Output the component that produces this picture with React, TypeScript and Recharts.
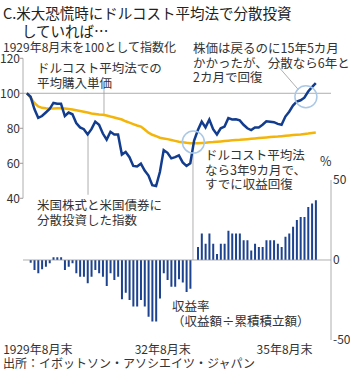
import { ComposedChart, Line, Bar, XAxis, YAxis, ReferenceLine, ReferenceDot } from 'recharts';

// 月次（1929年8月末 = 0）
// 米国株式と米国債券に分散投資した指数
const stockIndex = [
  100, 98, 91, 86, 87, 89, 91, 94.5, 94, 94,
  87, 89, 88, 83, 80.5, 79.5, 76.5, 79.5, 83.8, 82,
  77, 73.5, 78, 76.5, 76.5, 65, 66.5, 63.5, 58.5, 58.2,
  59.8, 55.8, 53, 47.5, 47, 55, 67.5, 66, 62.8, 63.5,
  64.5, 60.5, 58.5, 60, 73, 79, 83.8, 80.5, 85, 79.5,
  76.5, 80, 81, 85.8, 85, 85.2, 84.5, 82, 80, 79,
  80.5, 80.5, 82, 84, 83.8, 83.5, 82.5, 82, 86.7, 89.5,
  93, 95.2, 96, 97.5, 101, 103.5, 105.8,
];

// ドルコスト平均法での平均購入単価
const avgCost = [
  100, 97.5, 94.5, 92.5, 91.7, 91.4, 91.3, 91.3, 91.4, 91.5,
  91.3, 91, 90.7, 90.3, 89.9, 89.5, 89, 88.5, 88.2, 87.9,
  87.7, 87.3, 86.7, 86.2, 85.6, 85, 84, 83.2, 82.4, 81.6,
  81, 79.3, 77.5, 76.3, 75.5, 74.6, 74.2, 73.8, 73.3, 72.8,
  72.3, 72, 71.7, 71.5, 71.4, 71.4, 71.6, 71.8, 72, 72.1,
  72.3, 72.5, 72.7, 72.9, 73.1, 73.3, 73.4, 73.6, 73.8, 74,
  74.2, 74.4, 74.6, 74.8, 75, 75.2, 75.3, 75.5, 75.7, 75.9,
  76.1, 76.3, 76.5, 76.8, 77, 77.3, 77.6,
];

// 収益率（収益額÷累積積立額）%
const returnRate = [
  null, -1.7, -6.2, -8.3, -5.8, -4.2, -2, 1.7, 1.7, 1.7,
  -6.2, -4.2, -2, -8.3, -10.4, -10.4, -14.6, -10.4, -6.2, -8.3,
  -10.4, -16.2, -8.3, -12.5, -10.4, -24.6, -20.4, -25, -29, -29,
  -25, -29, -35.4, -38.5, -38.5, -24, -8.3, -12.5, -16.7, -16.7,
  -12, -14, -20, -18, 0, 8.1, 16.6, 10.2, 16.6, 10.2,
  3.8, 10.2, 10.2, 18.3, 16.6, 16.6, 16.6, 12.3, 12.3, 6,
  10.2, 8.1, 8.1, 12.3, 12.3, 12.3, 10.2, 8.1, 14.5, 16.6,
  20.8, 25, 26.8, 26.8, 33.2, 35.3, 37.4,
];

const xTicks = [0, 36, 72];
const xTickLabels = ['1929年8月末', '32年8月末', '35年8月末'];
const xTickShift = [11, -1, -16];
const leftTicks = [40, 60, 80, 100, 120];
const rightTicks = [-50, 0, 50];

const data = stockIndex.map((v, i) => ({ m: i, stock: v, cost: avgCost[i], ret: returnRate[i] }));

const FONT = '"Noto Sans CJK JP", "Noto Sans", sans-serif';
const INK = '#333';
const GUIDE = '#9a9a9a';
const RING = '#a9c8e6';

function XTick({ x, y, index }: any) {
  return (
    <text x={x + xTickShift[index]} y={y} dy={13.5} textAnchor="middle" fontSize={12} fill={INK} fontFamily={FONT}>
      {xTickLabels[index]}
    </text>
  );
}

function Note({ left, top, lines, size = 12.5 }: { left: number; top: number; lines: string[]; size?: number }) {
  return (
    <div style={{ position: 'absolute', left, top, fontSize: size, lineHeight: '14.5px', color: INK, whiteSpace: 'nowrap' }}>
      {lines.map((l, i) => <div key={i}>{l}</div>)}
    </div>
  );
}

export default function App() {
  return (
    <div style={{ position: 'relative', width: 350, height: 371, background: '#fff', fontFamily: FONT, overflow: 'hidden' }}>
      <style>{'body{margin:0}'}</style>
      <div style={{ position: 'absolute', left: 3, top: 4, fontSize: 14.5, lineHeight: '17px', color: '#222', whiteSpace: 'nowrap' }}>
        C.米大恐慌時にドルコスト平均法で分散投資
      </div>
      <div style={{ position: 'absolute', left: 22, top: 22, fontSize: 14.5, lineHeight: '17px', color: '#222', whiteSpace: 'nowrap' }}>
        していれば…
      </div>
      <Note left={3} top={40} size={12} lines={['1929年8月末を100として指数化']} />

      <div style={{ position: 'absolute', left: 0, top: 0 }}>
        <ComposedChart width={350} height={371} data={data} margin={{ top: 58.3, right: 0, bottom: 0, left: 0 }}>
          <XAxis
            type="number"
            dataKey="m"
            domain={[-1, 80]}
            ticks={xTicks}
            tick={<XTick />}
            tickLine={false}
            axisLine={false}
            tickSize={0}
            tickMargin={0}
            height={31}
            allowDataOverflow
          />
          <YAxis
            yAxisId="L"
            domain={[-41, 120]}
            ticks={leftTicks}
            width={23}
            axisLine={false}
            tickLine={{ stroke: GUIDE }}
            tickSize={3}
            tickMargin={0}
            tick={{ fontSize: 12, fill: INK, fontFamily: FONT }}
            allowDataOverflow
          />
          <YAxis
            yAxisId="R"
            orientation="right"
            domain={[-50, 126.06]}
            ticks={rightTicks}
            width={19}
            axisLine={false}
            tickLine={false}
            tickSize={2}
            tickMargin={0}
            tick={{ fontSize: 12, fill: INK, fontFamily: FONT }}
            allowDataOverflow
          />

          <ReferenceLine yAxisId="L" y={100} stroke={GUIDE} strokeWidth={0.8} />
          <ReferenceLine yAxisId="R" y={0} stroke={GUIDE} strokeWidth={0.8} />
          <ReferenceLine yAxisId="L" segment={[{ x: -1, y: 40 }, { x: -1, y: 120 }]} stroke={GUIDE} strokeWidth={0.8} />
          <ReferenceLine yAxisId="R" segment={[{ x: 80, y: -50 }, { x: 80, y: 50 }]} stroke={GUIDE} strokeWidth={0.8} />

          {/* leader lines */}
          <ReferenceLine yAxisId="L" segment={[{ x: 20.3, y: 103 }, { x: 20.3, y: 87.5 }]} stroke={GUIDE} strokeWidth={0.8} />
          <ReferenceLine yAxisId="L" segment={[{ x: 16.1, y: 78 }, { x: 16.1, y: 42 }]} stroke={GUIDE} strokeWidth={0.8} />
          <ReferenceLine yAxisId="R" segment={[{ x: 43.7, y: 0 }, { x: 43.7, y: 66.9 }]} stroke={GUIDE} strokeWidth={0.8} />
          <ReferenceLine yAxisId="L" segment={[{ x: 65.8, y: 116.2 }, { x: 71.5, y: 101.9 }]} stroke={GUIDE} strokeWidth={0.8} />

          <Bar yAxisId="R" dataKey="ret" fill="#1d428f" barSize={2} isAnimationActive={false} />
          <Line yAxisId="L" dataKey="cost" stroke="#f4b50b" strokeWidth={2.5} dot={false} type="linear" isAnimationActive={false} />
          <Line yAxisId="L" dataKey="stock" stroke="#123c8e" strokeWidth={2.5} dot={false} type="linear" isAnimationActive={false} />

          <ReferenceDot yAxisId="L" x={43.8} y={72.1} r={11} fill="none" stroke={RING} strokeWidth={1.5} />
          <ReferenceDot yAxisId="L" x={73.4} y={98} r={11} fill="none" stroke={RING} strokeWidth={1.5} />
        </ComposedChart>
      </div>

      <Note left={193} top={41} lines={['株価は戻るのに15年5カ月', 'かかったが、分散なら6年と', '2カ月で回復']} />
      <Note left={37} top={61} lines={['ドルコスト平均法での', '平均購入単価']} />
      <Note left={205} top={148} lines={['ドルコスト平均法', 'なら3年9カ月で、', 'すでに収益回復']} />
      <Note left={320} top={154} lines={['%']} />
      <Note left={37} top={198} lines={['米国株式と米国債券に', '分散投資した指数']} />
      <Note left={172} top={299} lines={['収益率', '（収益額÷累積積立額）']} />
      <Note left={3} top={356} size={12} lines={['出所：イボットソン・アソシエイツ・ジャパン']} />
    </div>
  );
}
